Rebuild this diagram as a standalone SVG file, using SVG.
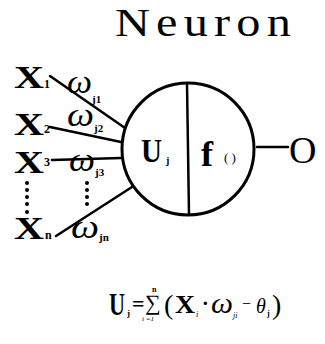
<svg xmlns="http://www.w3.org/2000/svg" width="325" height="344" viewBox="0 0 325 344">
<defs>
<style>
text{font-family:"Liberation Serif","DejaVu Serif",serif;fill:#000}
.x{font-size:32px;font-weight:bold}
.sub{font-size:12px;font-weight:bold}
.w{font-size:34px;font-style:italic}
.ws{font-size:11px;font-weight:bold}
.ln{stroke:#000;stroke-width:2.5;fill:none;stroke-linecap:round}
.dot{fill:#000}
</style>
</defs>
<rect width="325" height="344" fill="#fff"/>
<g id="title"><text x="115" y="36" font-size="39" letter-spacing="5" textLength="182" lengthAdjust="spacingAndGlyphs">Neuron</text></g>
<g id="connectors">
<line class="ln" x1="50" y1="76" x2="125" y2="128"/>
<line class="ln" x1="50" y1="127" x2="121" y2="142"/>
<line class="ln" x1="52" y1="160" x2="121" y2="158"/>
<line class="ln" x1="56" y1="236" x2="132" y2="187"/>
<line class="ln" x1="257" y1="147" x2="288" y2="147"/>
</g>
<g id="neuron">
<circle cx="188" cy="149" r="66" fill="none" stroke="#000" stroke-width="3"/>
<line x1="187" y1="83" x2="189" y2="215" stroke="#000" stroke-width="2.5"/>
<text x="141" y="162" font-size="34" font-weight="bold" textLength="21" lengthAdjust="spacingAndGlyphs">U</text>
<text x="166" y="164" font-size="10" font-weight="bold">j</text>
<text x="201" y="166" font-size="36" font-weight="bold">f</text>
<text x="224" y="162" font-size="13">( )</text>
</g>
<g id="x1"><text class="x" x="14" y="88" textLength="30" lengthAdjust="spacingAndGlyphs">X</text><text class="sub" x="44" y="88">1</text></g>
<g id="x2"><text class="x" x="14" y="135" textLength="30" lengthAdjust="spacingAndGlyphs">X</text><text class="sub" x="44" y="133">2</text></g>
<g id="x3"><text class="x" x="14" y="173" textLength="30" lengthAdjust="spacingAndGlyphs">X</text><text class="sub" x="44" y="166">3</text></g>
<g id="xn"><text class="x" x="14" y="239" textLength="30" lengthAdjust="spacingAndGlyphs">X</text><text class="sub" x="45" y="239">n</text></g>
<g id="dots-left"><circle class="dot" cx="27" cy="183" r="2"/><circle class="dot" cx="27" cy="190" r="2"/><circle class="dot" cx="27" cy="197" r="2"/><circle class="dot" cx="27" cy="204" r="2"/><circle class="dot" cx="27" cy="212" r="2"/></g>
<g id="dots-mid"><circle class="dot" cx="87" cy="183" r="2"/><circle class="dot" cx="87" cy="190" r="2"/><circle class="dot" cx="87" cy="197" r="2"/><circle class="dot" cx="87" cy="204" r="2"/></g>
<g id="w1"><text class="w" x="67" y="93" textLength="25" lengthAdjust="spacingAndGlyphs">ω</text><text class="ws" x="92" y="103">j1</text></g>
<g id="w2"><text class="w" x="67" y="126" textLength="27" lengthAdjust="spacingAndGlyphs">ω</text><text class="ws" x="94" y="132">j2</text></g>
<g id="w3"><text class="w" x="69" y="171" textLength="26" lengthAdjust="spacingAndGlyphs">ω</text><text class="ws" x="95" y="176">j3</text></g>
<g id="wn"><text class="w" x="71" y="238" textLength="28" lengthAdjust="spacingAndGlyphs">ω</text><text class="ws" x="99" y="241">jn</text></g>
<g id="output"><text x="289" y="163" font-size="38">O</text></g>
<g id="formula">
<text x="109" y="315" font-size="31" font-weight="bold" textLength="16" lengthAdjust="spacingAndGlyphs">U</text>
<text x="127" y="316" font-size="9" font-weight="bold">j</text>
<text x="132" y="311" font-size="22" font-weight="bold">=</text>
<text x="145" y="310" font-size="22">∑</text>
<text x="152" y="292" font-size="8" font-weight="bold">n</text>
<text x="142" y="321" font-size="7" font-style="italic">i =1</text>
<text x="164" y="314" font-size="28">(</text>
<text x="175" y="313" font-size="26" font-weight="bold" textLength="20" lengthAdjust="spacingAndGlyphs">X</text>
<text x="196" y="317" font-size="8" font-style="italic">i</text>
<text x="202" y="310" font-size="20" font-weight="bold">·</text>
<text x="211" y="313" font-size="30" font-style="italic" textLength="22" lengthAdjust="spacingAndGlyphs">ω</text>
<text x="233" y="318" font-size="8" font-style="italic">ji</text>
<text x="242" y="309" font-size="16">−</text>
<text x="256" y="313" font-size="20" font-style="italic">θ</text>
<text x="267" y="316" font-size="8" font-weight="bold">j</text>
<text x="272" y="314" font-size="28">)</text>
</g>
</svg>
